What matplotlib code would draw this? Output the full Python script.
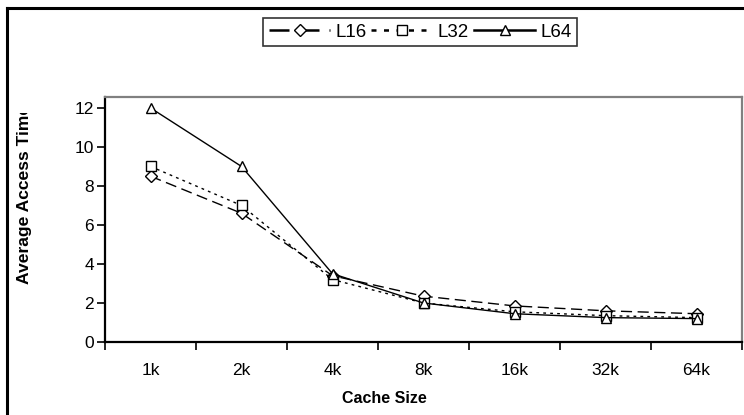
import matplotlib
matplotlib.use("Agg")
import matplotlib.pyplot as plt
from matplotlib.lines import Line2D
from matplotlib.patches import Rectangle

plt.rcParams['font.family'] = ['Liberation Sans', 'DejaVu Sans']

sizes = ['1k', '2k', '4k', '8k', '16k', '32k', '64k']
l16 = [8.5, 6.6, 3.4, 2.35, 1.85, 1.6, 1.45]
l32 = [9.0, 7.0, 3.2, 2.0, 1.55, 1.35, 1.25]
l64 = [12.0, 9.0, 3.5, 2.0, 1.45, 1.25, 1.2]

W, H = 744, 415
fig = plt.figure(figsize=(W / 100, H / 100), dpi=100)
ax = fig.add_axes([105 / W, (H - 342) / H, (742 - 105) / W, (342 - 97) / H])

x = list(range(len(sizes)))
mk = dict(color='black', lw=1.0, markersize=7, markerfacecolor='white',
          markeredgecolor='black', markeredgewidth=1.0)
ax.plot(x, l16, linestyle=(0, (8, 4)), marker='D', label='L16',
        **{**mk, 'markersize': 6})
ax.plot(x, l32, linestyle=(0, (2, 3)), marker='s', label='L32', **mk)
ax.plot(x, l64, linestyle='-', marker='^', label='L64', **mk)

ax.set_xlim(-0.5, len(sizes) - 0.5)
ax.set_ylim(0, 12.56)
ax.set_yticks([0, 2, 4, 6, 8, 10, 12])
ax.set_xticks([i - 0.5 for i in range(len(sizes) + 1)])
ax.set_xticklabels([])
ax.set_xticks(x, minor=True)
ax.set_xticklabels(sizes, minor=True)
ax.tick_params(axis='x', which='major', length=6, width=1.2, direction='out')
ax.tick_params(axis='x', which='minor', length=0, pad=15, labelsize=12.5)
ax.tick_params(axis='y', length=6, width=1.2, direction='out', pad=2,
               labelsize=12.5)

for s in ('left', 'bottom'):
    ax.spines[s].set_color('black')
    ax.spines[s].set_linewidth(1.6)
for s in ('top', 'right'):
    ax.spines[s].set_color('#808080')
    ax.spines[s].set_linewidth(1.6)

leg = fig.legend(loc='center', bbox_to_anchor=(420 / W, 1 - 32 / H), ncol=3,
                 fontsize=13.5, frameon=True, fancybox=False,
                 handlelength=3.3, handletextpad=0.25, columnspacing=0.25,
                 borderpad=0.3, borderaxespad=0)
leg.get_frame().set_edgecolor('black')
leg.get_frame().set_linewidth(1.2)
for h in leg.legend_handles:
    h.set_linewidth(1.8)

fig.text(384 / W, 1 - 398 / H, 'Cache Size', ha='center', va='center',
         fontsize=11.5, fontweight='bold')
fig.text(25 / W, 1 - 284 / H, 'Average Access Time', rotation=90,
         ha='center', va='bottom', fontsize=12.6, fontweight='bold')
# the chart area ends above the axis title, cutting its last letter
fig.add_artist(Rectangle((10 / W, 1 - 113 / H), 40 / W, 60 / H,
                         facecolor='white', edgecolor='none',
                         transform=fig.transFigure, zorder=5))

# outer chart frame (top and left edges visible)
fig.add_artist(Line2D([7 / W, 1], [1 - 8 / H, 1 - 8 / H], color='black',
                      lw=2.2, transform=fig.transFigure, zorder=6))
fig.add_artist(Line2D([7 / W, 7 / W], [0, 1 - 8 / H], color='black',
                      lw=2.2, transform=fig.transFigure, zorder=6))

fig.savefig('out.png', dpi=100)
